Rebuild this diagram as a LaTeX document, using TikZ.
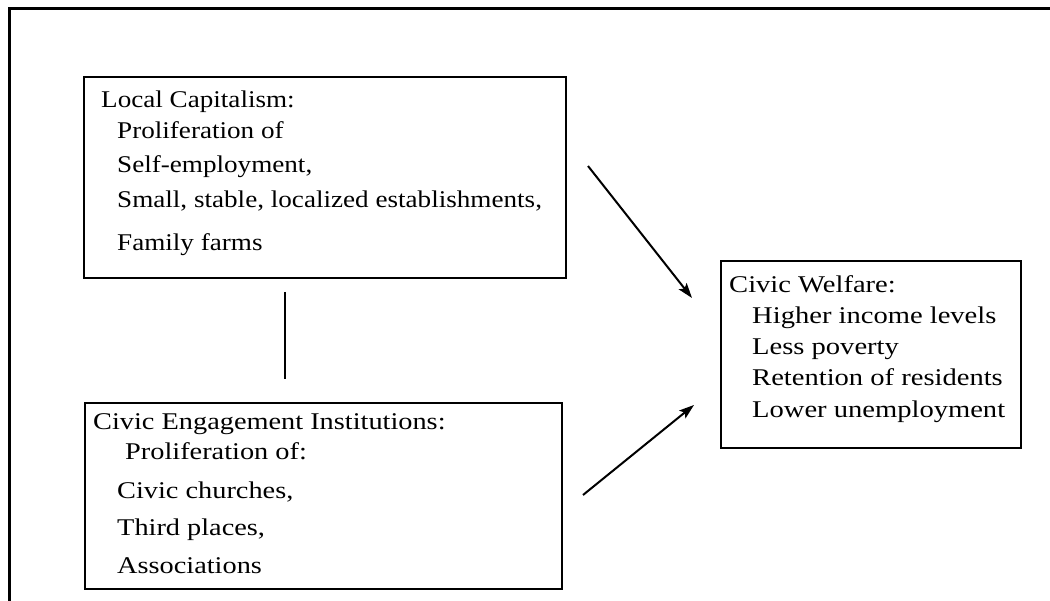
\documentclass[tikz,border=0pt]{standalone}
\usepackage{fontspec}
\setmainfont[FakeStretch=1.13]{Liberation Serif}
\newfontfamily\ceFont[FakeStretch=1.18]{Liberation Serif}
\newfontfamily\cwFont[FakeStretch=1.19]{Liberation Serif}
\usetikzlibrary{arrows.meta}
\begin{document}
\begin{tikzpicture}[x=1pt,y=-1pt,
  box/.style={draw, line width=2pt, inner sep=0pt, anchor=north west},
  txt/.style={anchor=base west, inner sep=0pt, font=\fontsize{24}{28}\selectfont},
  cetxt/.style={txt, font=\ceFont\fontsize{24}{28}\selectfont},
  cwtxt/.style={txt, font=\cwFont\fontsize{24}{28}\selectfont},
  conn/.style={line width=2pt, -{Stealth[length=15pt,width=10pt,inset=3pt]}},
  link/.style={line width=2pt}]
\useasboundingbox (0,0) rectangle (1050,601);
\draw[line width=3pt] (9,601) -- (9,9) -- (1050,9);

% boxes
\node[box, minimum width=482pt, minimum height=201pt] (lc) at (83,76) {};
\node[box, minimum width=477pt, minimum height=186pt] (ce) at (84,402) {};
\node[box, minimum width=300pt, minimum height=187pt] (cw) at (720,260) {};

% Local Capitalism
\node[txt] (lc1) at (101,108) {Local Capitalism:};
\node[txt] (lc2) at (117,139) {Proliferation of};
\node[txt] (lc3) at (117,173) {Self-employment,};
\node[txt] (lc4) at (117,208) {Small, stable, localized establishments,};
\node[txt] (lc5) at (117,251) {Family farms};

% Civic Engagement
\node[cetxt] (ce1) at (93,430) {Civic Engagement Institutions:};
\node[cetxt] (ce2) at (125,460) {Proliferation of:};
\node[cetxt] (ce3) at (117,499) {Civic churches,};
\node[cetxt] (ce4) at (117,535) {Third places,};
\node[cetxt] (ce5) at (117,573) {Associations};

% Civic Welfare
\node[cwtxt] (cw1) at (729,293) {Civic Welfare:};
\node[cwtxt] (cw2) at (752,324) {Higher income levels};
\node[cwtxt] (cw3) at (752,355) {Less poverty};
\node[cwtxt] (cw4) at (752,386) {Retention of residents};
\node[cwtxt] (cw5) at (752,418) {Lower unemployment};

% connectors
\coordinate (a1s) at (588,166);
\coordinate (a1e) at (692,298);
\coordinate (a2s) at (583,495);
\coordinate (a2e) at (694,405);
\coordinate (v1) at (285,292);
\coordinate (v2) at (285,379);
\draw[conn] (a1s) -- (a1e);
\draw[conn] (a2s) -- (a2e);
\draw[link] (v1) -- (v2);
\end{tikzpicture}
\end{document}
